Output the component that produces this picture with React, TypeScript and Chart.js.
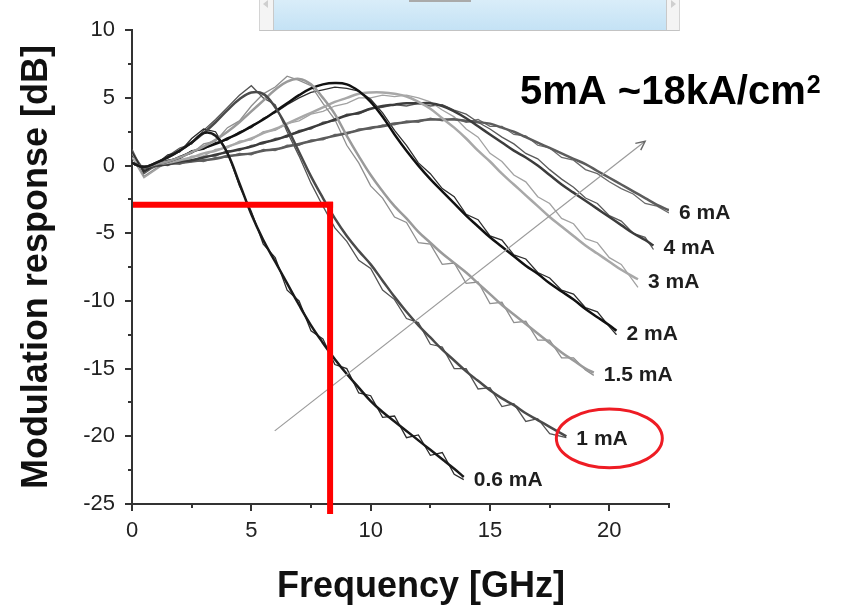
import React, { useEffect, useRef } from "react";
import { Chart, registerables } from "chart.js";

Chart.register(...registerables);

const FONT = "'Liberation Sans', Arial, Helvetica, sans-serif";

// ---------- data ----------
const freqGHz = [0,0.5,1,1.5,2,2.5,3,3.5,4,4.5,5,5.5,6,6.5,7,7.5,8,8.5,9,9.5,10,10.5,11,11.5,12,12.5,13,13.5,14,14.5,15,15.5,16,16.5,17,17.5,18,18.5,19,19.5,20,20.5,21,21.5,22,22.5];
const currents = ["0.6 mA", "1 mA", "1.5 mA", "2 mA", "3 mA", "4 mA", "6 mA"];
const endFreqGHz = [13.9, 18.2, 19.35, 20.3, 21.2, 21.85, 22.5];

// fitted (smooth) responses, dB
const fit06 = [0.2,-0.1,0.2,0.6,1.1,1.7,2.4,2.2,0.9,-1.3,-3.6,-5.5,-7.1,-8.7,-10.3,-11.8,-13.1,-14.3,-15.4,-16.4,-17.4,-18.2,-18.9,-19.6,-20.3,-21.0,-21.7,-22.4,-23.0];
const fit1 = [0.2,-0.1,0.2,0.6,1.1,1.7,2.4,3.2,4.1,4.9,5.4,5.3,4.3,2.8,1.0,-0.8,-2.4,-3.9,-5.2,-6.3,-7.3,-8.5,-9.7,-10.8,-11.8,-12.7,-13.6,-14.4,-15.2,-15.9,-16.6,-17.2,-17.7,-18.3,-18.8,-19.3,-20.0];
const fit15 = [0.2,-0.1,0.1,0.3,0.6,1.0,1.4,1.9,2.5,3.2,4.0,4.8,5.6,6.2,6.4,6.0,5.0,3.8,2.2,0.7,-0.7,-1.9,-3.0,-3.9,-4.9,-5.7,-6.5,-7.2,-7.9,-8.7,-9.5,-10.3,-11.0,-11.7,-12.4,-13.1,-13.8,-14.4,-15.0,-15.3];
const fit2 = [0.2,-0.1,0.1,0.3,0.6,1.0,1.3,1.6,2.0,2.4,2.9,3.4,4.0,4.6,5.2,5.7,6.0,6.1,6.0,5.5,4.7,3.6,2.3,1.1,0.0,-1.0,-1.9,-2.8,-3.7,-4.5,-5.3,-6.0,-6.7,-7.4,-8.0,-8.7,-9.3,-9.9,-10.6,-11.2,-11.8,-12.2];
const fit3 = [0.2,-0.1,0.1,0.2,0.4,0.6,0.9,1.1,1.4,1.7,2.0,2.4,2.7,3.1,3.5,3.9,4.3,4.7,5.0,5.3,5.4,5.4,5.3,5.1,4.7,4.2,3.5,2.8,2.0,1.1,0.3,-0.6,-1.4,-2.2,-3.0,-3.8,-4.5,-5.2,-5.9,-6.5,-7.1,-7.7,-8.4];
const fit4 = [0.2,-0.1,0.0,0.1,0.3,0.4,0.6,0.8,1.0,1.2,1.4,1.7,1.9,2.2,2.5,2.8,3.1,3.4,3.7,3.9,4.2,4.4,4.5,4.6,4.6,4.6,4.4,4.0,3.5,2.9,2.3,1.7,1.1,0.6,0.0,-0.7,-1.4,-2.0,-2.6,-3.2,-3.8,-4.4,-5.0,-5.5,-5.9];
const fit6 = [0.2,-0.1,0.0,0.1,0.2,0.3,0.4,0.5,0.7,0.8,0.9,1.1,1.2,1.4,1.6,1.8,2.0,2.2,2.4,2.6,2.8,2.9,3.1,3.2,3.3,3.4,3.4,3.4,3.3,3.2,3.1,2.8,2.5,2.1,1.7,1.3,0.9,0.5,0.1,-0.4,-0.9,-1.4,-1.9,-2.4,-2.9,-3.3];

// measured (noisy) responses, dB
const meas06 = [1.0,-0.5,0.1,0.8,1.0,2.0,2.7,2.5,1.0,-1.5,-3.4,-5.8,-6.8,-9.2,-10.0,-12.2,-12.8,-14.7,-15.0,-16.8,-17.0,-18.6,-18.5,-20.1,-19.9,-21.4,-21.2,-22.8,-23.2];
const meas1 = [1.2,-0.6,0.0,0.7,1.3,1.6,2.6,3.4,4.3,5.2,5.9,5.0,4.5,2.5,0.7,-1.3,-3.0,-4.6,-5.6,-7.0,-7.6,-9.2,-9.9,-11.3,-11.6,-13.2,-13.4,-15.0,-15.0,-16.5,-16.4,-17.8,-17.6,-18.9,-18.7,-19.8,-20.1];
const meas15 = [0.9,-0.8,-0.2,0.2,0.7,0.9,1.6,1.8,2.8,3.3,4.4,5.3,5.8,6.6,6.3,5.9,4.6,3.4,1.5,0.2,-1.5,-2.4,-3.8,-4.2,-5.7,-5.8,-7.3,-7.2,-8.7,-8.6,-10.2,-10.1,-11.6,-11.5,-12.9,-12.9,-14.2,-14.2,-15.1,-15.5];
const meas2 = [0.8,-0.4,0.1,0.4,0.5,1.1,1.2,1.7,1.9,2.5,2.8,3.5,3.9,4.5,5.0,5.4,5.6,5.8,5.7,5.5,4.9,3.9,2.6,1.5,0.2,-0.6,-1.7,-2.3,-3.6,-4.0,-5.2,-5.5,-6.6,-6.9,-7.9,-8.3,-9.2,-9.5,-10.5,-10.8,-11.9,-12.5];
const meas3 = [0.6,-0.9,-0.3,0.3,0.2,0.7,0.7,1.2,1.3,1.8,1.9,2.5,2.6,3.1,3.3,3.8,4.0,4.4,4.6,5.0,5.0,5.2,5.1,5.2,5.0,4.7,4.1,3.6,2.7,2.1,0.9,0.3,-0.7,-1.2,-2.3,-2.8,-3.9,-4.3,-5.4,-5.7,-6.8,-7.3,-9.0];
const meas4 = [1.0,-0.3,0.1,0.0,0.4,0.3,0.7,0.7,1.1,1.1,1.5,1.6,2.0,2.1,2.6,2.7,3.2,3.3,3.8,3.8,4.2,4.3,4.5,4.4,4.6,4.4,4.5,4.1,3.8,3.2,2.7,2.1,1.6,0.9,0.5,-0.3,-1.0,-1.6,-2.4,-2.8,-3.7,-4.1,-5.0,-5.3,-6.2];
const meas6 = [0.9,-0.4,-0.1,0.2,0.1,0.4,0.3,0.6,0.6,0.9,0.8,1.2,1.1,1.5,1.5,1.9,1.9,2.3,2.3,2.7,2.7,3.0,3.0,3.3,3.2,3.5,3.3,3.5,3.2,3.4,2.9,2.9,2.3,2.2,1.5,1.3,0.6,0.4,-0.3,-0.6,-1.2,-1.7,-2.1,-2.8,-3.0,-3.5];

// axis ticks
const xLabelTicks = [0, 5, 10, 15, 20];
const xTickValues = [0,2.5,5,7.5,10,12.5,15,17.5,20,22.5];
const yTickValues = [-25,-22.5,-20,-17.5,-15,-12.5,-10,-7.5,-5,-2.5,0,2.5,5,7.5,10];

// annotations (data units)
const cutoffPoint = [8.3, -2.9];
const trendArrow = [5.98, -19.6, 21.5, 1.8];
const highlightEllipse = [20.0, -20.15, 2.22, 2.17];

// ---------- styles ----------
const fitColors = ["#1a1a1a", "#4a4a4a", "#9a9a9a", "#111111", "#a8a8a8", "#3c3c3c", "#5c5c5c"];
const measColors = ["#2c2c2c", "#545454", "#8e8e8e", "#2e2e2e", "#a2a2a2", "#5a5a5a", "#6a6a6a"];

const fits = [fit06, fit1, fit15, fit2, fit3, fit4, fit6];
const meas = [meas06, meas1, meas15, meas2, meas3, meas4, meas6];

function toPoints(values: number[], endF: number) {
  return values.map((v, i) => ({ x: i < values.length - 1 ? freqGHz[i] : endF, y: v }));
}

const overlayPlugin = {
  id: "overlay",
  afterDraw(chart: any) {
    const { ctx, chartArea } = chart;
    const x = chart.scales.x;
    const y = chart.scales.y;
    ctx.save();
    // tick marks (major long, minor short)
    ctx.strokeStyle = "#333";
    ctx.lineWidth = 2;
    for (const v of xTickValues) {
      const px = Math.round(x.getPixelForValue(v));
      const len = v % 5 === 0 ? 7 : 4;
      ctx.beginPath();
      ctx.moveTo(px, chartArea.bottom);
      ctx.lineTo(px, chartArea.bottom + len);
      ctx.stroke();
    }
    for (const v of yTickValues) {
      const py = Math.round(y.getPixelForValue(v));
      const len = v % 5 === 0 ? 7 : 4;
      ctx.beginPath();
      ctx.moveTo(chartArea.left, py);
      ctx.lineTo(chartArea.left - len, py);
      ctx.stroke();
    }

    // trend arrow
    const ax1 = x.getPixelForValue(trendArrow[0]);
    const ay1 = y.getPixelForValue(trendArrow[1]);
    const ax2 = x.getPixelForValue(trendArrow[2]);
    const ay2 = y.getPixelForValue(trendArrow[3]);
    ctx.strokeStyle = "#9a9a9a";
    ctx.lineWidth = 1.2;
    ctx.beginPath();
    ctx.moveTo(ax1, ay1);
    ctx.lineTo(ax2, ay2);
    ctx.stroke();
    const ang = Math.atan2(ay2 - ay1, ax2 - ax1);
    ctx.strokeStyle = "#666";
    ctx.lineWidth = 1.4;
    ctx.beginPath();
    ctx.moveTo(ax2 - 10 * Math.cos(ang - 0.45), ay2 - 10 * Math.sin(ang - 0.45));
    ctx.lineTo(ax2, ay2);
    ctx.lineTo(ax2 - 10 * Math.cos(ang + 0.45), ay2 - 10 * Math.sin(ang + 0.45));
    ctx.stroke();

    // red -3 dB marker lines
    const cx = x.getPixelForValue(cutoffPoint[0]);
    const cy = y.getPixelForValue(cutoffPoint[1]);
    ctx.strokeStyle = "#ff0000";
    ctx.lineWidth = 6;
    ctx.lineCap = "butt";
    ctx.beginPath();
    ctx.moveTo(chartArea.left + 1, cy);
    ctx.lineTo(cx + 3, cy);
    ctx.stroke();
    ctx.beginPath();
    ctx.moveTo(cx, cy - 3);
    ctx.lineTo(cx, chartArea.bottom + 10);
    ctx.stroke();

    // red ellipse
    const ex = x.getPixelForValue(highlightEllipse[0]);
    const ey = y.getPixelForValue(highlightEllipse[1]);
    const rx = x.getPixelForValue(highlightEllipse[0] + highlightEllipse[2]) - ex;
    const ry = y.getPixelForValue(highlightEllipse[1] - highlightEllipse[3]) - ey;
    ctx.strokeStyle = "#ee1c24";
    ctx.lineWidth = 3;
    ctx.beginPath();
    ctx.ellipse(ex, ey, rx, ry, 0, 0, Math.PI * 2);
    ctx.stroke();

    // curve labels at curve ends
    ctx.fillStyle = "#1e1e1e";
    ctx.font = `bold 21px ${FONT}`;
    ctx.textAlign = "left";
    ctx.textBaseline = "middle";
    currents.forEach((lbl, i) => {
      const f = fits[i];
      const px = x.getPixelForValue(endFreqGHz[i]);
      const py = y.getPixelForValue(f[f.length - 1]);
      ctx.fillText(lbl, px + 10, py + 3);
    });

    // annotation text
    ctx.fillStyle = "#000";
    ctx.textBaseline = "alphabetic";
    ctx.font = `bold 40px ${FONT}`;
    const main = "5mA ~18kA/cm";
    ctx.fillText(main, 520, 104);
    const w = ctx.measureText(main).width;
    ctx.font = `bold 25px ${FONT}`;
    ctx.fillText("2", 520 + w + 1, 93);

    // x axis title
    ctx.fillStyle = "#111";
    ctx.font = `bold 36px ${FONT}`;
    ctx.textAlign = "center";
    ctx.fillText("Frequency [GHz]", 421, 597);
    ctx.restore();
  },
};

export default function App() {
  const ref = useRef<HTMLCanvasElement>(null);
  useEffect(() => {
    const canvas = ref.current;
    if (!canvas) return;
    const datasets: any[] = [];
    currents.forEach((lbl, i) => {
      datasets.push({
        label: lbl + " measured",
        data: toPoints(meas[i], endFreqGHz[i]),
        borderColor: measColors[i],
        borderWidth: 1.3,
        pointRadius: 0,
        tension: 0,
        fill: false,
        order: 1,
      });
      datasets.push({
        label: lbl + " fit",
        data: toPoints(fits[i], endFreqGHz[i]),
        borderColor: fitColors[i],
        borderWidth: 2.5,
        pointRadius: 0,
        tension: 0.4,
        fill: false,
        order: 0,
      });
    });
    const chart = new Chart(canvas, {
      type: "line",
      data: { datasets },
      options: {
        responsive: false,
        animation: false,
        devicePixelRatio: 1,
        events: [],
        layout: { padding: { left: 0, top: 20, right: 185, bottom: 0 } },
        plugins: {
          legend: { display: false },
          tooltip: { enabled: false },
          title: { display: false },
        },
        scales: {
          x: {
            type: "linear",
            min: 0,
            max: 22.5,
            grid: { display: false, drawTicks: false },
            border: { display: true, color: "#333", width: 2 },
            afterBuildTicks: (s: any) => {
              s.ticks = xLabelTicks.map((v) => ({ value: v }));
            },
            ticks: {
              autoSkip: false,
              maxRotation: 0,
              padding: 14,
              color: "#222",
              font: { family: FONT, size: 22 },
              callback: (v: any) => String(v),
            },
            afterFit: (s: any) => {
              s.height = 102;
            },
          },
          y: {
            type: "linear",
            min: -25,
            max: 10,
            grid: { display: false, drawTicks: false },
            border: { display: true, color: "#333", width: 2 },
            ticks: {
              stepSize: 5,
              padding: 17,
              color: "#222",
              font: { family: FONT, size: 22 },
            },
            title: {
              display: true,
              text: "Modulation response [dB]",
              color: "#111",
              font: { family: FONT, size: 36, weight: "bold" },
              padding: { top: 15, bottom: 0 },
            },
            afterFit: (s: any) => {
              s.width = 132;
            },
          },
        },
      } as any,
      plugins: [overlayPlugin],
    });
    return () => chart.destroy();
  }, []);

  return (
    <div style={{ position: "fixed", left: 0, top: 0, width: 854, height: 606, background: "#fff", overflow: "hidden" }}>
      <canvas ref={ref} width={854} height={606} style={{ position: "absolute", left: 0, top: 0, width: 854, height: 606 }} />
      <div
        style={{
          position: "absolute",
          left: 259,
          top: 0,
          width: 421,
          height: 31,
          boxSizing: "border-box",
          background: "#f4f4f4",
          borderLeft: "1px solid #d4d4d4",
          borderRight: "1px solid #d4d4d4",
          borderBottom: "1px solid #c3c3c3",
        }}
      >
        <div
          style={{
            position: "absolute",
            left: 13,
            right: 12,
            top: 0,
            bottom: 0,
            background: "linear-gradient(#d9edf9, #c4e2f5)",
            borderLeft: "1px solid #c9c9c9",
            borderRight: "1px solid #c9c9c9",
          }}
        />
        <div style={{ position: "absolute", left: 149, width: 62, top: 0, height: 2, background: "#aaaaaa" }} />
        <div
          style={{
            position: "absolute",
            left: 3,
            top: 0,
            width: 0,
            height: 0,
            borderTop: "4px solid transparent",
            borderBottom: "4px solid transparent",
            borderRight: "5px solid #cfcfcf",
          }}
        />
        <div
          style={{
            position: "absolute",
            right: 3,
            top: 0,
            width: 0,
            height: 0,
            borderTop: "4px solid transparent",
            borderBottom: "4px solid transparent",
            borderLeft: "5px solid #cfcfcf",
          }}
        />
      </div>
    </div>
  );
}
